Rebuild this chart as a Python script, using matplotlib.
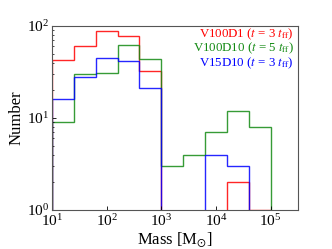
import matplotlib
matplotlib.use('Agg')
import matplotlib.pyplot as plt
import numpy as np
from matplotlib.ticker import LogLocator, LogFormatterMathtext, NullLocator

plt.rcParams.update({
    'font.family': 'serif',
    'font.serif': ['Liberation Serif'],
    'mathtext.fontset': 'stix',
    'font.size': 11,
    'axes.linewidth': 0.8,
    'axes.edgecolor': '#555555',
    'xtick.direction': 'in',
    'ytick.direction': 'in',
})

# Bin edges in log10(M) (0.4 dex bins from 10 to 1e5 Msun)
log_edges = [1.0, 1.4, 1.8, 2.2, 2.6, 3.0, 3.4, 3.8, 4.2, 4.6, 5.0]
edges = 10 ** np.array(log_edges)

labels = ['V100D1 ($t$ = 3 $t_{\\rm ff}$)',
          'V100D10 ($t$ = 5 $t_{\\rm ff}$)',
          'V15D10 ($t$ = 3 $t_{\\rm ff}$)']
colors = ['#ff0000', '#138a13', '#0000ff']

v100d1 = [43, 60, 89, 78, 32, 0, 0, 0, 2, 1]
v100d10 = [9, 30, 31, 62, 44, 3, 4, 7, 12, 8]
v15d10 = [16, 28, 45, 42, 21, 0, 0, 4, 3, 0]

fig = plt.figure(figsize=(3.32, 2.49), dpi=100)
ax = fig.add_axes([0.157, 0.157, 0.74, 0.739])

for vals, c in zip([v100d1, v100d10, v15d10], colors):
    ax.stairs(vals, edges, color=c, linewidth=1.0, alpha=0.85)

ax.set_xscale('log')
ax.set_yscale('log')
ax.set_xlim(10, 10 ** 5.5)
ax.set_ylim(1, 100)

ax.xaxis.set_major_locator(LogLocator(base=10))
ax.xaxis.set_major_formatter(LogFormatterMathtext())
ax.xaxis.set_minor_locator(NullLocator())
ax.yaxis.set_major_formatter(LogFormatterMathtext())
ax.tick_params(which='major', length=3, width=0.6, labelsize=11, pad=2)
ax.tick_params(which='minor', length=1.5, width=0.5)

ax.set_xlabel('Mass [M$_{\\odot}$]', fontsize=12, labelpad=1)
ax.set_ylabel('Number', fontsize=12, labelpad=2)

for i, (lab, c) in enumerate(zip(labels, colors)):
    ax.text(0.985, 0.955 - i * 0.078, lab, color=c, fontsize=9.3,
            ha='right', va='center', transform=ax.transAxes)

plt.savefig('out.png', dpi=100)
